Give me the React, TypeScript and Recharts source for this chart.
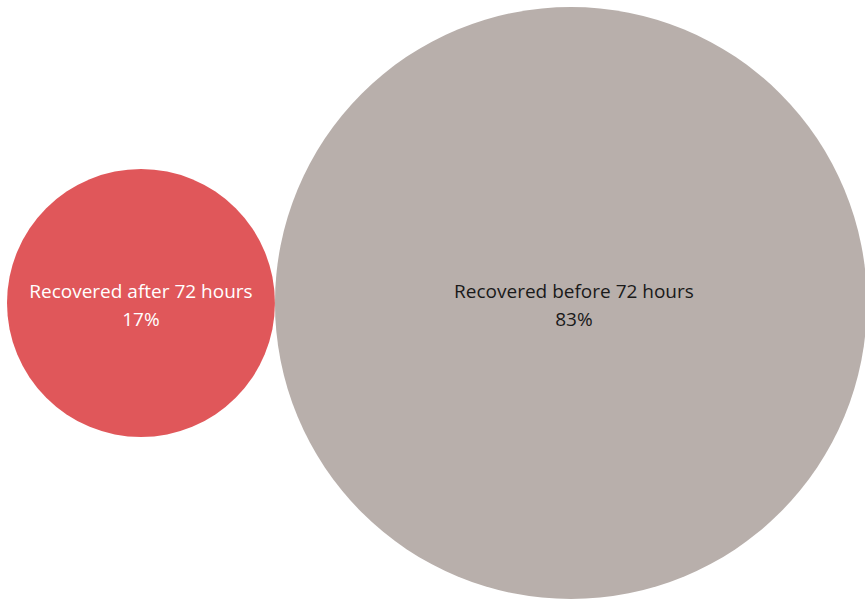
import { ScatterChart, Scatter, XAxis, YAxis } from "recharts";

const labels = ["Recovered after 72 hours", "Recovered before 72 hours"];
const shares = [17, 83];
const colors = ["#E0575A", "#B8AFAB"];
const textColors = ["#ffffff", "#1a1a1a"];

// bubbles packed side by side, radius ~ sqrt(share)
const roots = shares.map((v) => Math.sqrt(v));
const centers = roots.map((r, i) => roots.slice(0, i).reduce((a, b) => a + 2 * b, 0) + r);
const xMax = roots.reduce((a, b) => a + 2 * b, 0);

const data = labels.map((name, i) => ({ name, share: shares[i], x: centers[i], y: 0.5, i }));

const W = 880;
const H = 610;
const margin = { top: 5, right: 13, bottom: 9, left: 7 };
const plotW = W - margin.left - margin.right;
const pxPerUnit = plotW / xMax;

const Bubble = (props: any) => {
  const { cx, cy, payload } = props;
  const r = Math.sqrt(payload.share) * pxPerUnit;
  const i = payload.i;
  return (
    <g>
      <circle cx={cx} cy={cy} r={r} fill={colors[i]} />
      <text
        x={cx + (i === 1 ? 3 : 0)}
        y={cy - 12}
        textAnchor="middle"
        dominantBaseline="central"
        fill={textColors[i]}
        fontSize={19}
        fontFamily="Open Sans"
      >
        {payload.name}
      </text>
      <text
        x={cx + (i === 1 ? 3 : 0)}
        y={cy + 16}
        textAnchor="middle"
        dominantBaseline="central"
        fill={textColors[i]}
        fontSize={19}
        fontFamily="Open Sans"
      >
        {payload.share}%
      </text>
    </g>
  );
};

export default function App() {
  return (
    <div style={{ position: "absolute", left: 0, top: 0, background: "#fff" }}>
      <ScatterChart width={W} height={H} margin={margin}>
        <XAxis type="number" dataKey="x" domain={[0, xMax]} hide />
        <YAxis type="number" dataKey="y" domain={[0, 1]} hide />
        <Scatter data={data} shape={<Bubble />} isAnimationActive={false} />
      </ScatterChart>
    </div>
  );
}
